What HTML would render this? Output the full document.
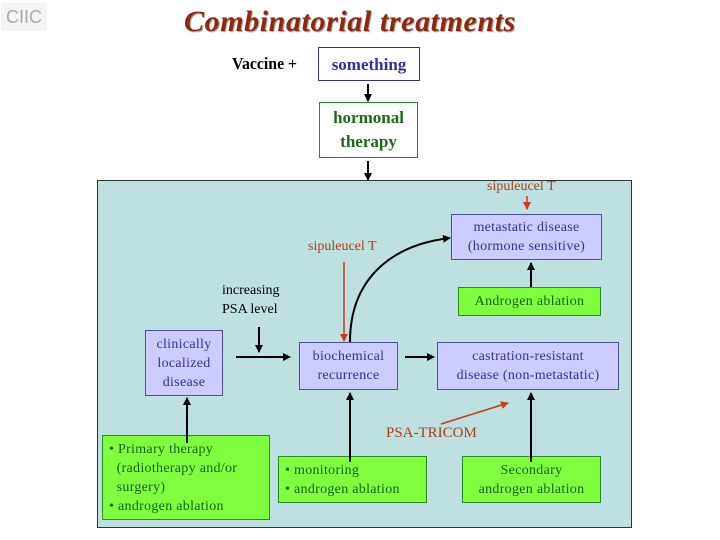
<!DOCTYPE html>
<html><head><meta charset="utf-8"><style>
body{margin:0;width:720px;height:540px;background:#fff;position:relative;overflow:hidden;font-family:"Liberation Serif",serif}
.a{position:absolute;box-sizing:border-box;text-align:center;display:flex;align-items:center;justify-content:center;line-height:19px}
.p{background:#ccccff;border:1px solid #4d4db3;color:#333399;font-size:14px;letter-spacing:0.3px}
.g{background:#80ff40;border:1px solid #2a8a2a;color:#1a5e1a;font-size:14px;letter-spacing:0.3px}
.t{position:absolute;white-space:nowrap}
</style></head><body>
<div class="a" style="left:1px;top:3px;width:46px;height:28px;background:#f4f4f4;color:#aaa;font-family:'Liberation Sans',sans-serif;font-size:18px">CIIC</div>
<div class="t" style="left:184px;top:5px;font-size:30px;letter-spacing:0.6px;font-style:italic;font-weight:bold;color:#8b2a10;text-shadow:1px 1px 1px #999">Combinatorial treatments</div>
<div class="t" style="left:232px;top:54px;font-size:17px;font-weight:bold;transform:scaleX(0.93);transform-origin:left">Vaccine +</div>
<div class="a" style="left:318px;top:47px;width:102px;height:34px;border:1px solid #333399;color:#333399;font-size:17px;font-weight:bold">something</div>
<div class="a" style="left:319px;top:102px;width:99px;height:56px;border:1px solid #2a8a2a;color:#1a6a1a;font-size:17px;font-weight:bold;line-height:24px">hormonal<br>therapy</div>
<div style="position:absolute;left:97px;top:180px;width:535px;height:348px;box-sizing:border-box;border:1px solid #333;background:#bfe0e0"></div>
<div class="a p" style="left:451px;top:214px;width:151px;height:46px">metastatic disease<br>(hormone sensitive)</div>
<div class="a g" style="left:458px;top:287px;width:143px;height:29px">Androgen ablation</div>
<div class="a p" style="left:145px;top:330px;width:78px;height:66px">clinically<br>localized<br>disease</div>
<div class="a p" style="left:299px;top:342px;width:99px;height:48px">biochemical<br>recurrence</div>
<div class="a p" style="left:437px;top:342px;width:182px;height:48px">castration-resistant<br>disease (non-metastatic)</div>
<div class="a g" style="left:102px;top:435px;width:168px;height:85px;text-align:left;justify-content:flex-start;padding-left:6px">• Primary therapy<br>&nbsp;&nbsp;(radiotherapy and/or<br>&nbsp;&nbsp;surgery)<br>• androgen ablation</div>
<div class="a g" style="left:278px;top:456px;width:149px;height:47px;text-align:left;justify-content:flex-start;padding-left:6px">• monitoring<br>• androgen ablation</div>
<div class="a g" style="left:462px;top:456px;width:139px;height:47px">Secondary<br>androgen ablation</div>
<div class="t" style="left:222px;top:281px;font-size:14px;line-height:19px">increasing<br>PSA level</div>
<div class="t" style="left:487px;top:179px;font-size:14px;color:#b0401a">sipuleucel T</div>
<div class="t" style="left:308px;top:239px;font-size:14px;color:#b0401a">sipuleucel T</div>
<div class="t" style="left:386px;top:425px;font-size:15px;color:#b0401a">PSA-TRICOM</div>
<svg width="720" height="540" style="position:absolute;left:0;top:0">
<defs><marker id="k" markerWidth="8" markerHeight="8" refX="7" refY="4" orient="auto" markerUnits="userSpaceOnUse"><path d="M0,0L8,4L0,8z" fill="#000"/></marker>
<marker id="r" markerWidth="8" markerHeight="8" refX="7" refY="4" orient="auto" markerUnits="userSpaceOnUse"><path d="M0,0L8,4L0,8z" fill="#c0401a"/></marker></defs>
<g stroke="#000" stroke-width="2" fill="none" marker-end="url(#k)">
<line x1="368" y1="84" x2="368" y2="101"/>
<line x1="368" y1="161" x2="368" y2="180"/>
<line x1="259" y1="327" x2="259" y2="352"/>
<line x1="236" y1="357" x2="290" y2="357"/>
<line x1="405" y1="357" x2="434" y2="357"/>
<line x1="187" y1="443" x2="187" y2="398"/>
<line x1="350" y1="462" x2="350" y2="393"/>
<line x1="531" y1="462" x2="531" y2="393"/>
<line x1="531" y1="287" x2="531" y2="263"/>
<path d="M350,342 C350,280 390,245 450,238"/>
</g>
<g stroke="#c0401a" stroke-width="1.5" fill="none" marker-end="url(#r)">
<line x1="527" y1="196" x2="527" y2="209"/>
<line x1="344" y1="262" x2="344" y2="341"/>
<line x1="441" y1="424" x2="508" y2="403"/>
</g>
</svg>
</body></html>
